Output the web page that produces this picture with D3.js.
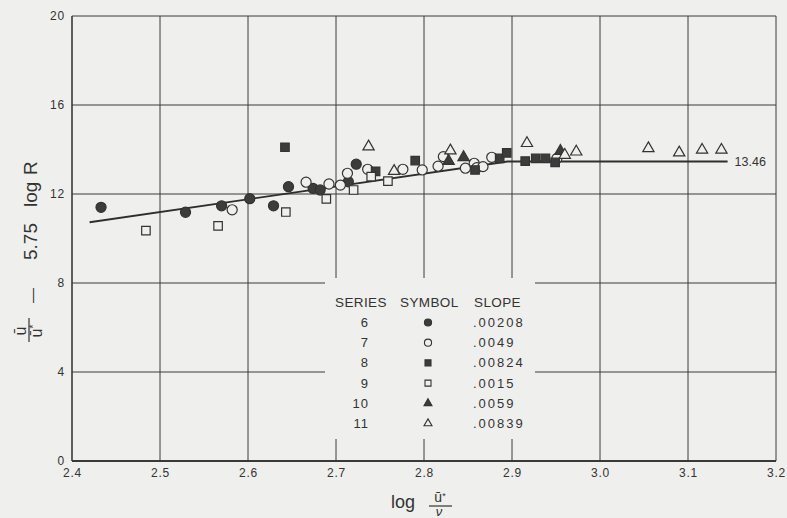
<!DOCTYPE html>
<html>
<head>
<meta charset="utf-8">
<script src="https://cdn.jsdelivr.net/npm/d3@7"></script>
<style>
    body { margin: 0; background: #efefed; }
    svg { display: block; }
</style>
</head>
<body>
<div id="container"></div>
<script>
// readings: [log(u*/nu), u/u* - 5.75 log R]
var series6 = [[2.433, 11.40], [2.529, 11.18], [2.570, 11.47], [2.602, 11.79], [2.629, 11.47],
    [2.646, 12.33], [2.674, 12.25], [2.682, 12.18], [2.714, 12.55], [2.723, 13.34]];
var series7 = [[2.582, 11.29], [2.666, 12.53], [2.692, 12.45], [2.705, 12.40], [2.713, 12.93],
    [2.736, 13.11], [2.776, 13.11], [2.798, 13.08], [2.816, 13.25], [2.822, 13.68],
    [2.847, 13.16], [2.857, 13.38], [2.860, 13.18], [2.867, 13.23], [2.877, 13.65], [2.951, 13.60]];
var series8 = [[2.642, 14.10], [2.745, 13.02], [2.790, 13.50], [2.858, 13.08], [2.886, 13.60],
    [2.894, 13.85], [2.915, 13.48], [2.927, 13.60], [2.938, 13.60], [2.949, 13.42]];
var series9 = [[2.484, 10.35], [2.566, 10.57], [2.643, 11.19], [2.689, 11.78], [2.720, 12.18],
    [2.740, 12.78], [2.759, 12.58]];
var series10 = [[2.828, 13.48], [2.845, 13.65], [2.955, 13.93]];
var series11 = [[2.737, 14.13], [2.766, 13.03], [2.830, 13.95], [2.917, 14.28], [2.960, 13.75],
    [2.973, 13.90], [3.055, 14.05], [3.090, 13.86], [3.116, 13.98], [3.138, 13.98]];

var fitLine = [[2.42, 10.73], [2.895, 13.46], [3.145, 13.46]];
var fitLabel = "13.46";

var xTicks = [2.4, 2.5, 2.6, 2.7, 2.8, 2.9, 3.0, 3.1, 3.2];
var yTicks = [0, 4, 8, 12, 16, 20];

var legendSeries = ["6", "7", "8", "9", "10", "11"];
var legendSlopes = [".00208", ".0049", ".00824", ".0015", ".0059", ".00839"];

var svgContainer;
var xScale;
var yScale;

var Chart = {
    WIDTH: 787,
    HEIGHT: 518,
    LEFT: 72,
    RIGHT: 776,
    TOP: 16,
    BOTTOM: 461,
    BG: "#efefed",
    INK: "#3a3a3a",
    FONT: "'Liberation Sans', Arial, sans-serif"
};

// symbol type and filled / open for each series
var styles = [
    {data: series6, type: d3.symbolCircle, size: 80, filled: true},
    {data: series7, type: d3.symbolCircle, size: 80, filled: false},
    {data: series8, type: d3.symbolSquare, size: 72, filled: true},
    {data: series9, type: d3.symbolSquare, size: 72, filled: false},
    {data: series10, type: d3.symbolTriangle, size: 55, filled: true},
    {data: series11, type: d3.symbolTriangle, size: 55, filled: false}
];

ready();

function ready() {
    svgContainer = d3.select("#container").append("svg")
            .attr("width", Chart.WIDTH)
            .attr("height", Chart.HEIGHT)
            .style("background", Chart.BG);

    xScale = d3.scaleLinear().domain([2.4, 3.2]).range([Chart.LEFT, Chart.RIGHT]);
    yScale = d3.scaleLinear().domain([0, 20]).range([Chart.BOTTOM, Chart.TOP]);

    drawGrid();
    drawLegend();
    drawAxes();
    drawFit();
    for (var i = 0; i < styles.length; i++) {
        drawSeries(styles[i]);
    }
    drawTitles();
}

function drawGrid() {
    var grid = svgContainer.append("g");
    grid.selectAll("line.v").data(xTicks).enter().append("line")
            .attr("x1", function (d) { return xScale(d); })
            .attr("x2", function (d) { return xScale(d); })
            .attr("y1", yScale(20))
            .attr("y2", yScale(0))
            .style("stroke", Chart.INK)
            .style("stroke-width", function (d, i) { return (i == 0) ? 1.6 : 1; });
    grid.selectAll("line.h").data(yTicks).enter().append("line")
            .attr("x1", xScale(2.4))
            .attr("x2", xScale(3.2))
            .attr("y1", function (d) { return yScale(d); })
            .attr("y2", function (d) { return yScale(d); })
            .style("stroke", Chart.INK)
            .style("stroke-width", function (d) { return (d == 0) ? 2 : 1; });
}

function drawAxes() {
    var xAxis = d3.axisBottom(xScale).tickValues(xTicks)
            .tickFormat(d3.format(".1f")).tickSize(0).tickPadding(7);
    var gx = svgContainer.append("g")
            .attr("transform", "translate(0," + Chart.BOTTOM + ")")
            .call(xAxis);
    var yAxis = d3.axisLeft(yScale).tickValues(yTicks).tickSize(0).tickPadding(7);
    var gy = svgContainer.append("g")
            .attr("transform", "translate(" + Chart.LEFT + ",0)")
            .call(yAxis);
    [gx, gy].forEach(function (g) {
        g.select(".domain").remove();
        g.selectAll("text")
                .style("font-family", Chart.FONT)
                .style("font-size", "12px")
                .style("letter-spacing", "0.8px")
                .style("fill", "#333");
    });
}

function drawFit() {
    var line = d3.line()
            .x(function (d) { return xScale(d[0]); })
            .y(function (d) { return yScale(d[1]); });
    svgContainer.append("path")
            .datum(fitLine)
            .attr("d", line)
            .style("fill", "none")
            .style("stroke", "#2e2e2e")
            .style("stroke-width", 1.8);
    var last = fitLine[fitLine.length - 1];
    svgContainer.append("text")
            .attr("x", xScale(last[0]) + 7)
            .attr("y", yScale(last[1]) + 4.5)
            .text(fitLabel)
            .style("font-family", Chart.FONT)
            .style("font-size", "12.5px")
            .style("fill", "#333");
}

function drawSeries(s) {
    var sym = d3.symbol().type(s.type).size(s.size);
    svgContainer.append("g").selectAll("path")
            .data(s.data).enter().append("path")
            .attr("d", sym)
            .attr("transform", function (d) {
                return "translate(" + xScale(d[0]) + "," + yScale(d[1]) + ")";
            })
            .style("fill", s.filled ? "#3c3c3c" : Chart.BG)
            .style("stroke", "#333")
            .style("stroke-width", 1.2);
}

function drawLegend() {
    // the legend sits on a blank patch that breaks the grid
    svgContainer.append("rect")
            .attr("x", 325)
            .attr("y", 278)
            .attr("width", 210)
            .attr("height", 161)
            .style("fill", Chart.BG);

    var lg = svgContainer.append("g").style("font-family", Chart.FONT).style("fill", "#333");
    var heads = [["SERIES", 335], ["SYMBOL", 400], ["SLOPE", 474]];
    for (var i = 0; i < heads.length; i++) {
        lg.append("text")
                .attr("x", heads[i][1])
                .attr("y", 307)
                .text(heads[i][0])
                .style("font-size", "13.5px")
                .style("letter-spacing", "0.4px");
    }
    for (var j = 0; j < legendSeries.length; j++) {
        var yy = 327 + j * 20.2;
        lg.append("text")
                .attr("x", 369)
                .attr("y", yy)
                .attr("text-anchor", "end")
                .text(legendSeries[j])
                .style("font-size", "13px")
                .style("letter-spacing", "1px");
        lg.append("path")
                .attr("d", d3.symbol().type(styles[j].type).size(styles[j].size * 0.5))
                .attr("transform", "translate(428," + (yy - 4.5) + ")")
                .style("fill", styles[j].filled ? "#3c3c3c" : Chart.BG)
                .style("stroke", "#333")
                .style("stroke-width", 1.1);
        lg.append("text")
                .attr("x", 473)
                .attr("y", yy)
                .text(legendSlopes[j])
                .style("font-size", "13px")
                .style("letter-spacing", "2px");
    }
}

function drawTitles() {
    var f = Chart.FONT;
    // x title: log u*/nu
    var xt = svgContainer.append("g").style("font-family", f).style("fill", "#333");
    xt.append("text").attr("x", 391).attr("y", 508).text("log").style("font-size", "18px");
    var num = xt.append("text").attr("x", 440).attr("y", 502).attr("text-anchor", "middle")
            .style("font-size", "14px");
    num.append("tspan").text("ū");
    num.append("tspan").attr("dy", -3).style("font-size", "9px").text("*");
    xt.append("line").attr("x1", 429).attr("x2", 452).attr("y1", 506).attr("y2", 506)
            .style("stroke", "#333").style("stroke-width", 1.2);
    xt.append("text").attr("x", 439).attr("y", 516).attr("text-anchor", "middle")
            .style("font-size", "13px").style("font-style", "italic").text("ν");

    // y title, rotated: u/u* - 5.75 log R
    var yt = svgContainer.append("g")
            .attr("transform", "translate(30,343) rotate(-90)")
            .style("font-family", f).style("fill", "#333");
    yt.append("text").attr("x", 12).attr("y", -4).attr("text-anchor", "middle")
            .style("font-size", "16px").text("ū");
    yt.append("line").attr("x1", 1).attr("x2", 25).attr("y1", -1).attr("y2", -1)
            .style("stroke", "#333").style("stroke-width", 1.2);
    var den = yt.append("text").attr("x", 12).attr("y", 12).attr("text-anchor", "middle")
            .style("font-size", "16px");
    den.append("tspan").text("ū");
    den.append("tspan").attr("dy", -5).style("font-size", "10px").text("*");
    yt.append("text").attr("x", 40).attr("y", 7).style("font-size", "15px").text("—");
    yt.append("text").attr("x", 83).attr("y", 7).style("font-size", "19px").text("5.75");
    yt.append("text").attr("x", 136).attr("y", 7).style("font-size", "19px").text("log");
    yt.append("text").attr("x", 168).attr("y", 7).style("font-size", "19px").text("R");
}
</script>
</body>
</html>
